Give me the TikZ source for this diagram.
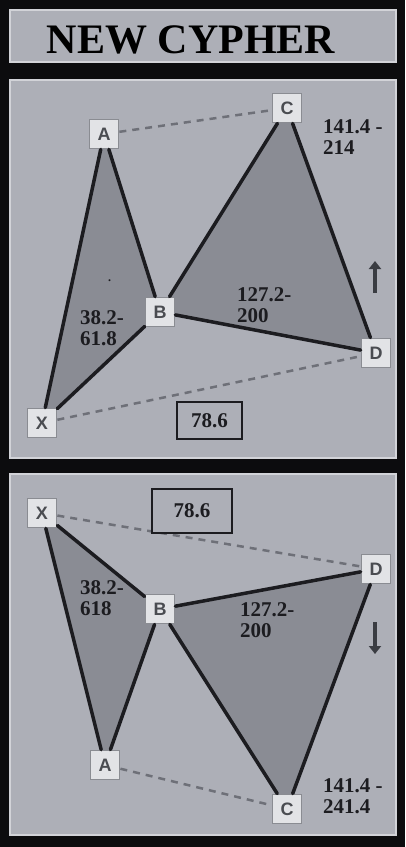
\documentclass[tikz,border=0pt]{standalone}
\usepackage{fontspec}
\setmainfont{Liberation Serif}
\newfontfamily\labfont{Liberation Sans}
\usetikzlibrary{arrows.meta}
\definecolor{bgblack}{HTML}{0C0C0E}
\definecolor{panelcol}{HTML}{ADAFB7}
\definecolor{paneledge}{HTML}{D2D3D8}
\definecolor{tricol}{HTML}{8A8C94}
\definecolor{legcol}{HTML}{1C1C20}
\definecolor{dashcol}{HTML}{6E7078}
\definecolor{ptfill}{HTML}{E2E3E6}
\definecolor{ptborder}{HTML}{8A8C92}
\definecolor{ptext}{HTML}{4A4C51}
\definecolor{arrcol}{HTML}{3A3C42}
\tikzset{
  panel/.style={fill=panelcol, draw=paneledge, line width=1.5pt},
  tri/.style={fill=tricol},
  pt/.style={draw=ptborder, fill=ptfill, line width=1.8pt, minimum size=29pt, inner sep=0pt,
    font=\labfont\bfseries\fontsize{18}{18}\selectfont, text=ptext},
  leg/.style={line width=3.5pt, draw=legcol, line cap=round},
  dashline/.style={dash pattern=on 7pt off 6pt, line width=2.5pt, draw=dashcol},
  num/.style={font=\bfseries\fontsize{21}{21.5}\selectfont, align=left, inner sep=0pt, anchor=north west, text=legcol},
  ratio/.style={draw=legcol, fill=panelcol, line width=1.6pt, inner sep=0pt,
    font=\bfseries\fontsize{21}{21}\selectfont, text=legcol},
  dirarrow/.style={line width=3.5pt, draw=arrcol, -{Triangle[length=8pt,width=12pt]}},
  titletext/.style={font=\bfseries\fontsize{42}{42}\selectfont, text=black, inner sep=0pt, anchor=base}
}
\begin{document}
\begin{tikzpicture}[x=1pt,y=-1pt]
\useasboundingbox (0,0) rectangle (405,847);
\fill[bgblack] (0,0) rectangle (405,847);
% panels
\draw[panel] (10,10) rectangle (396,62);
\draw[panel] (10,80) rectangle (396,458);
\draw[panel] (10,474) rectangle (396,835);
\node[titletext] (title) at (191,53) {NEW CYPHER};

% ---------- panel 1 (bullish) ----------
\coordinate (pA1) at (104,134);
\coordinate (pC1) at (287,108);
\coordinate (pB1) at (160,312);
\coordinate (pD1) at (376,353);
\coordinate (pX1) at (42,423);
\fill[tri] (pX1) -- (pA1) -- (pB1) -- cycle;
\fill[tri] (pB1) -- (pC1) -- (pD1) -- cycle;
\node[pt] (A1) at (pA1) {A};
\node[pt] (C1) at (pC1) {C};
\node[pt] (B1) at (pB1) {B};
\node[pt] (D1) at (pD1) {D};
\node[pt] (X1) at (pX1) {X};
\draw[leg] (X1) -- (A1);
\draw[leg] (A1) -- (B1);
\draw[leg] (X1) -- (B1);
\draw[leg] (B1) -- (C1);
\draw[leg] (C1) -- (D1);
\draw[leg] (B1) -- (D1);
\draw[dashline] (A1) -- (C1);
\draw[dashline] (X1) -- (D1);
\node[num] (r1a) at (80,310) {38.2-\\61.8};
\node[num, font=\bfseries\fontsize{12}{12}\selectfont] (dot1) at (108,280) {.};
\node[num] (r1b) at (237,287) {127.2-\\200};
\node[num] (r1c) at (323,119) {141.4 -\\214};
\node[ratio, minimum width=65pt, minimum height=37pt] (q1) at (209.5,420.5) {78.6};
\coordinate (u1s) at (375,293);
\coordinate (u1e) at (375,261);
\draw[dirarrow] (u1s) -- (u1e);

% ---------- panel 2 (bearish) ----------
\coordinate (pX2) at (42,513);
\coordinate (pD2) at (376,569);
\coordinate (pB2) at (160,609);
\coordinate (pA2) at (105,765);
\coordinate (pC2) at (287,809);
\fill[tri] (pX2) -- (pA2) -- (pB2) -- cycle;
\fill[tri] (pB2) -- (pC2) -- (pD2) -- cycle;
\node[pt] (X2) at (pX2) {X};
\node[pt] (D2) at (pD2) {D};
\node[pt] (B2) at (pB2) {B};
\node[pt] (A2) at (pA2) {A};
\node[pt] (C2) at (pC2) {C};
\draw[leg] (X2) -- (A2);
\draw[leg] (A2) -- (B2);
\draw[leg] (X2) -- (B2);
\draw[leg] (B2) -- (C2);
\draw[leg] (C2) -- (D2);
\draw[leg] (B2) -- (D2);
\draw[dashline] (X2) -- (D2);
\draw[dashline] (A2) -- (C2);
\node[num] (r2a) at (80,580) {38.2-\\618};
\node[num] (r2b) at (240,602) {127.2-\\200};
\node[num] (r2c) at (323,778) {141.4 -\\241.4};
\node[ratio, minimum width=80pt, minimum height=44pt] (q2) at (192,511) {78.6};
\coordinate (d2s) at (375,622);
\coordinate (d2e) at (375,654);
\draw[dirarrow] (d2s) -- (d2e);
\end{tikzpicture}
\end{document}
